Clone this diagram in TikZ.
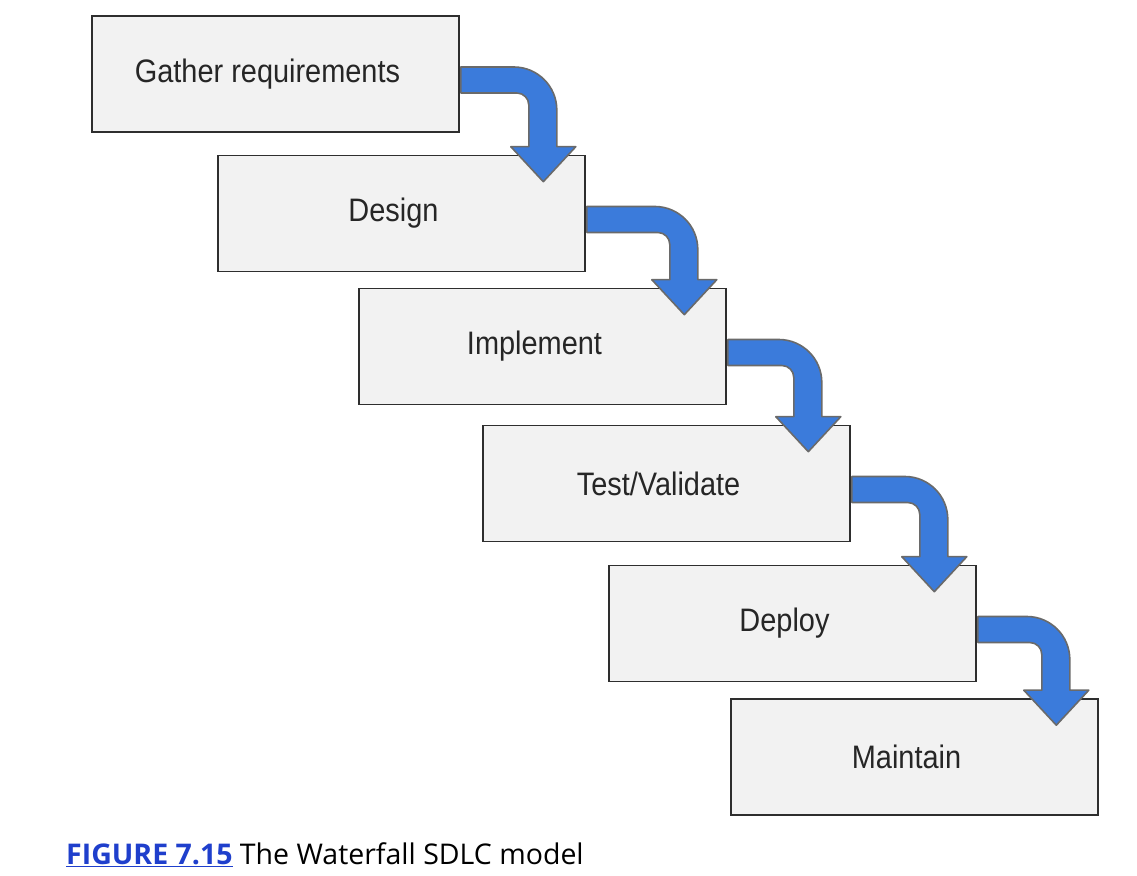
\documentclass[tikz,border=0pt]{standalone}
\usepackage{fontspec}
\newfontfamily\stagefont{Liberation Sans}[FakeStretch=0.89]
\newfontfamily\capfont{Open Sans}
\usetikzlibrary{calc}
\definecolor{boxfill}{HTML}{F2F2F2}
\definecolor{boxline}{HTML}{2E2E2E}
\definecolor{flowblue}{HTML}{3B7BDB}
\definecolor{flowedge}{HTML}{6A6A6A}
\definecolor{figblue}{HTML}{1F3FCC}
\tikzset{
x=1pt, y=1pt,
stage/.style={draw=boxline, line width=1.6pt, fill=boxfill, minimum width=367pt, minimum height=116pt, inner sep=0pt, font=\stagefont\fontsize{32.5}{32.5}\selectfont, text=black!85},
flow/.style={fill=flowblue, draw=flowedge, line width=1.6pt, line join=round},
}
% bent arrow from the right side of one stage down onto the next one
\newcommand{\stageflow}[2]{%
  \path[flow] let \p1=(#1.east), \p2=(#2.north east) in
    (\x1+1, \y1+7) -- (\x2-72, \y1+7)
    arc[start angle=90, end angle=0, radius=43]
    -- (\x2-29, \y2+8) -- (\x2-10, \y2+8) -- (\x2-42.5, \y2-27)
    -- (\x2-75, \y2+8) -- (\x2-57, \y2+8) -- (\x2-57, \y1-31)
    arc[start angle=0, end angle=90, radius=12]
    -- (\x1+1, \y1-19) -- cycle;}

\begin{document}
\begin{tikzpicture}
    \useasboundingbox (0,0) rectangle (1137,875);
    \node[stage] (gather) at (275.5,801) {\hspace*{-16pt}Gather requirements};
    \node[stage] (design) at (401.5,661.5) {\hspace*{-16pt}Design};
    \node[stage] (impl) at (542.5,528.5) {\hspace*{-16pt}Implement};
    \node[stage] (test) at (666.5,391.5) {\hspace*{-16pt}Test/Validate};
    \node[stage] (deploy) at (792.5,251.5) {\hspace*{-16pt}Deploy};
    \node[stage] (maint) at (914.5,118) {\hspace*{-16pt}Maintain};
    \stageflow{gather}{design}
    \stageflow{design}{impl}
    \stageflow{impl}{test}
    \stageflow{test}{deploy}
    \stageflow{deploy}{maint}
    \node[anchor=base west, inner sep=0pt, font=\capfont\fontsize{28.5}{28.5}\selectfont] (caption) at (66,11)
        {\textcolor{figblue}{\bfseries\underline{FIGURE 7.15}} The Waterfall SDLC model};
\end{tikzpicture}
\end{document}
